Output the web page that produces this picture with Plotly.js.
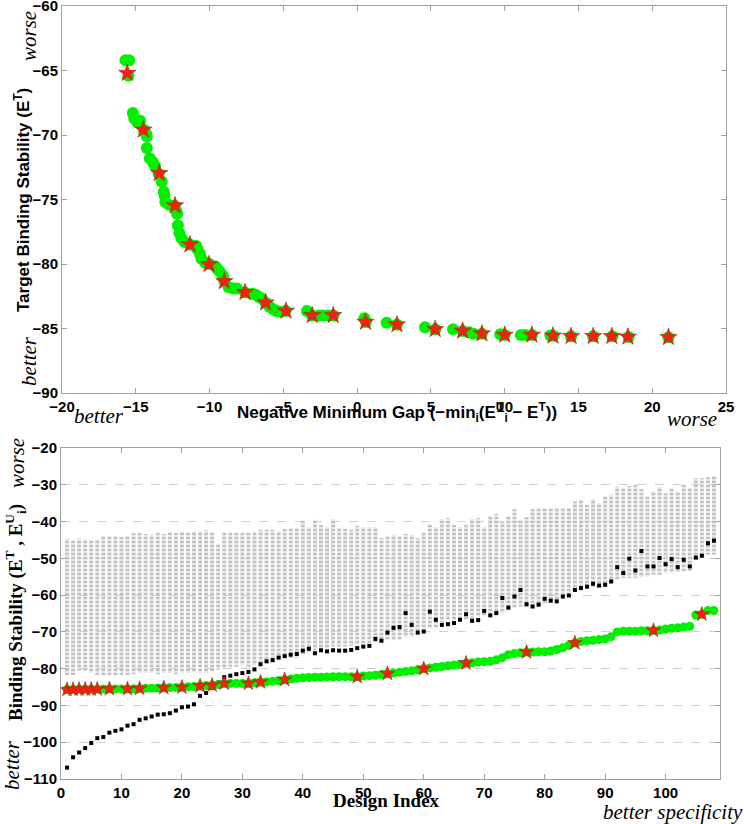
<!DOCTYPE html>
<html>
<head>
<meta charset="utf-8">
<script src="https://cdn.plot.ly/plotly-3.0.1.min.js"></script>
<style>html,body{margin:0;padding:0;background:#fff;}#chart{width:744px;height:824px;}</style>
</head>
<body>
<div id="chart"></div>
<script>
// ---------- Top panel: Pareto front (negative minimum gap vs target stability) ----------
const frontGap = [-15.7,-15.45,-15.5,-15.2,-15.1,-14.9,-14.7,-14.45,-14.3,-14.25,-14.25,-14.05,-13.85,-13.7,-13.45,-13.25,-13.1,-13.05,-13.0,-12.75,
  -12.35,-12.25,-12.2,-12.15,-12.05,-11.9,-11.7,-11.3,-10.9,-10.8,-10.65,-10.55,-10.3,-10.0,-9.6,-9.45,-9.3,-9.1,-9.0,-8.7,
  -8.4,-8.15,-7.6,-7.1,-6.85,-6.65,-6.45,-6.2,-5.95,-5.7,-5.45,-5.2,-4.85,-3.4,-3.05,-2.6,-2.3,-1.95,-1.6,0.5,
  0.6,2.0,2.7,4.6,5.3,6.5,7.15,7.6,7.9,8.45,9.7,10.0,11.1,11.4,11.85,13.1,13.3,14.5,16.0,17.3,18.4,21.1];
const frontET = [-64.2,-64.2,-65.4,-68.3,-68.7,-69.0,-68.9,-69.6,-69.9,-70.1,-71.0,-71.8,-72.1,-72.4,-73.0,-73.6,-74.4,-74.7,-75.2,-75.4,
  -75.5,-75.9,-76.1,-77.0,-77.6,-78.0,-78.3,-78.5,-78.6,-78.9,-79.2,-79.6,-79.9,-80.0,-80.2,-80.4,-80.6,-80.9,-81.3,-81.8,
  -81.9,-81.9,-82.2,-82.3,-82.4,-82.55,-82.7,-83.0,-83.3,-83.5,-83.65,-83.7,-83.65,-83.65,-84.0,-84.0,-84.0,-84.0,-84.0,-84.2,
  -84.5,-84.55,-84.7,-84.9,-85.06,-85.06,-85.2,-85.3,-85.4,-85.4,-85.45,-85.5,-85.5,-85.5,-85.5,-85.55,-85.57,-85.6,-85.6,-85.6,-85.65,-85.68];
const chosenGap = [-15.58,-14.49,-13.41,-12.34,-11.33,-10.04,-9.0,-7.6,-6.2,-4.82,-3.04,-1.62,0.57,2.7,5.29,7.15,8.46,10.0,11.84,13.27,14.5,16.0,17.26,18.35,21.1];
const chosenET = [-65.2,-69.6,-72.97,-75.47,-78.5,-80.03,-81.35,-82.2,-83.0,-83.64,-83.98,-83.98,-84.5,-84.7,-85.06,-85.19,-85.4,-85.5,-85.5,-85.57,-85.6,-85.6,-85.6,-85.65,-85.68];

// ---------- Bottom panel: per-design stabilities (design index 1..108) ----------
const targetET = [-85.68,-85.65,-85.6,-85.6,-85.6,-85.57,-85.55,-85.5,-85.5,-85.5,-85.5,-85.45,-85.4,-85.35,-85.3,-85.25,-85.19,-85.15,-85.1,-85.06,
  -84.95,-84.85,-84.7,-84.6,-84.5,-84.3,-84.0,-84.0,-84.0,-84.0,-84.0,-83.8,-83.64,-83.6,-83.4,-83.3,-83.0,-82.8,-82.6,-82.5,
  -82.4,-82.3,-82.3,-82.25,-82.2,-82.2,-82.2,-82.2,-82.2,-82.0,-81.9,-81.8,-81.6,-81.35,-81.2,-81.0,-80.8,-80.6,-80.3,-80.0,
  -79.8,-79.6,-79.4,-79.2,-79.0,-78.8,-78.5,-78.4,-78.2,-78.1,-78.0,-77.6,-77.0,-76.2,-75.9,-75.7,-75.5,-75.5,-75.4,-75.4,
  -75.2,-74.8,-74.3,-73.7,-73.0,-72.6,-72.4,-72.3,-72.1,-71.9,-71.3,-70.0,-69.8,-69.8,-69.8,-69.7,-69.7,-69.6,-69.5,-69.2,
  -69.0,-68.9,-68.7,-68.5,-65.4,-65.2,-64.2,-64.2];
const offTargetMarked = [-106.9,-104.1,-102.8,-101.6,-100.2,-98.9,-98.6,-97.4,-96.9,-96.5,-95.5,-95.1,-93.9,-93.5,-93.0,-92.5,-92.4,-92.1,-91.4,-90.5,
  -90.3,-89.7,-87.4,-86.6,-85.3,-84.5,-82.3,-81.9,-81.5,-81.2,-80.9,-80.2,-78.8,-78.0,-77.7,-77.0,-76.6,-76.2,-76.0,-75.1,
  -74.6,-75.8,-75.0,-75.3,-75.0,-75.1,-75.1,-74.9,-74.4,-74.0,-73.8,-71.9,-72.4,-70.2,-68.9,-68.7,-64.9,-68.1,-70.2,-69.9,
  -64.5,-66.7,-68.1,-67.9,-67.6,-66.7,-65.2,-67.0,-66.8,-64.3,-65.5,-64.9,-60.8,-63.4,-60.4,-58.6,-62.5,-63.1,-62.6,-61.0,
  -61.5,-61.7,-60.4,-60.1,-58.6,-58.1,-57.7,-56.9,-57.4,-57.2,-56.3,-52.4,-54.0,-50.1,-53.3,-48.0,-52.2,-52.2,-49.9,-51.6,
  -50.2,-52.4,-50.4,-52.2,-49.8,-49.3,-45.9,-45.2];
const offTargetHigh = [-44.7,-45.0,-44.6,-44.8,-45.1,-44.8,-43.9,-43.9,-43.9,-44.2,-44.0,-43.1,-43.1,-43.4,-43.6,-43.0,-43.4,-42.7,-43.1,-42.7,
  -43.0,-42.7,-42.7,-42.4,-42.7,-46.0,-42.9,-43.0,-43.0,-43.0,-43.0,-42.8,-42.2,-42.2,-42.2,-42.6,-42.0,-41.8,-41.8,-39.8,
  -41.5,-39.5,-40.9,-41.5,-39.3,-41.8,-42.0,-42.2,-41.2,-41.5,-41.5,-41.5,-44.5,-44.0,-43.6,-43.9,-43.4,-43.6,-44.5,-43.1,
  -40.9,-41.5,-39.3,-39.1,-40.9,-41.5,-40.9,-39.3,-39.1,-41.5,-38.4,-37.9,-40.0,-38.4,-36.6,-39.5,-38.8,-36.6,-36.3,-36.3,
  -36.3,-36.3,-36.3,-36.3,-34.5,-34.1,-35.4,-33.9,-35.0,-33.2,-32.7,-30.5,-30.7,-30.3,-30.0,-31.2,-33.2,-31.8,-30.6,-32.3,
  -30.9,-31.8,-30.0,-30.9,-28.2,-28.2,-27.9,-27.7];
const offTargetLow = [-81.7,-81.7,-80.5,-80.5,-81.2,-81.7,-81.7,-81.7,-81.7,-81.7,-81.7,-81.5,-81.2,-81.2,-81.2,-81.5,-81.2,-81.2,-81.5,-81.2,
  -81.2,-81.0,-81.2,-81.2,-80.8,-80.3,-80.0,-79.5,-79.5,-79.0,-79.5,-79.0,-78.5,-78.5,-78.0,-77.5,-77.0,-77.0,-77.0,-76.0,
  -75.5,-75.0,-74.5,-74.5,-74.0,-74.0,-74.0,-73.8,-73.5,-73.3,-73.0,-72.8,-72.5,-72.3,-72.2,-72.2,-71.3,-71.3,-70.3,-69.3,
  -69.0,-69.0,-67.4,-66.7,-66.7,-67.0,-66.7,-66.7,-65.8,-65.8,-64.9,-64.9,-64.9,-64.0,-63.5,-63.1,-63.1,-63.1,-63.1,-62.2,
  -62.2,-61.3,-60.4,-59.5,-59.0,-58.6,-58.2,-57.7,-57.7,-57.2,-56.7,-55.8,-55.4,-55.4,-55.4,-55.1,-55.0,-54.5,-54.5,-54.0,
  -54.0,-53.8,-53.6,-53.4,-50.4,-49.9,-49.0,-49.0];
const chosenDesigns = [1,2,3,4,5,6,8,11,13,17,20,23,25,27,31,33,37,49,54,60,67,77,85,98,106];

const topXTicks = [-20,-15,-10,-5,0,5,10,15,20,25];
const topYTicks = [-90,-85,-80,-75,-70,-65,-60];
const botXTicks = [0,10,20,30,40,50,60,70,80,90,100];
const botYTicks = [-110,-100,-90,-80,-70,-60,-50,-40,-30,-20];

// ---------- build ----------
const designIdx = targetET.map((_, i) => i + 1);
const chosenY = chosenDesigns.map(d => targetET[d - 1]);
const spanH = offTargetHigh.map((v, i) => v - offTargetLow[i]);

const W = 744, H = 824;
const fx = p => p / W, fy = p => 1 - p / H;
const GREEN = '#00f000', RED = '#ff1a1a';

const traces = [
  {type: 'scatter', mode: 'markers', x: frontGap, y: frontET, xaxis: 'x', yaxis: 'y',
   marker: {symbol: 'circle', size: 12, color: GREEN, line: {width: 0}}},
  {type: 'scatter', mode: 'markers', x: chosenGap, y: chosenET, xaxis: 'x', yaxis: 'y',
   marker: {symbol: 'star', size: 13, color: RED, line: {width: 0.6, color: '#8a3a00'}}},
  {type: 'bar', x: designIdx, y: spanH, base: offTargetLow, width: 0.66, xaxis: 'x2', yaxis: 'y2',
   marker: {color: 'rgba(0,0,0,0)', line: {width: 0},
            pattern: {shape: '-', fgcolor: '#c2c2c2', bgcolor: 'rgba(255,255,255,0)', size: 4, solidity: 0.7, fillmode: 'replace'}}},
  {type: 'scatter', mode: 'markers', x: designIdx, y: offTargetMarked, xaxis: 'x2', yaxis: 'y2',
   marker: {symbol: 'square', size: 4, color: '#000', line: {width: 0}}},
  {type: 'scatter', mode: 'markers', x: designIdx, y: targetET, xaxis: 'x2', yaxis: 'y2',
   marker: {symbol: 'circle', size: 9, color: GREEN, line: {width: 0}}},
  {type: 'scatter', mode: 'markers', x: chosenDesigns, y: chosenY, xaxis: 'x2', yaxis: 'y2',
   marker: {symbol: 'star', size: 11, color: RED, line: {width: 0.6, color: '#8a3a00'}}}
];

const tickFont = {family: 'Liberation Sans, Arial, sans-serif', size: 15, color: '#000', weight: 'bold'};
const axBase = {showline: true, mirror: 'ticks', linecolor: '#a0a0a0', linewidth: 1, ticks: 'inside', ticklen: 5,
  tickcolor: '#a0a0a0', tickwidth: 1, zeroline: false, showgrid: false, tickfont: tickFont, fixedrange: true,
  ticklabeloverflow: 'allow'};

const serifIt = {family: 'Liberation Serif, Times New Roman, serif', size: 21, color: '#000', style: 'italic'};
const sansB = {family: 'Liberation Sans, Arial, sans-serif', size: 17, color: '#000', weight: 'bold'};
const serifB = {family: 'Liberation Serif, Times New Roman, serif', size: 19, color: '#000', weight: 'bold'};

function ann(text, x, y, font, angle) {
  return {text: text, xref: 'paper', yref: 'paper', x: fx(x), y: fy(y), xanchor: 'center', yanchor: 'middle',
          showarrow: false, font: font, textangle: angle || 0};
}

const layout = {
  width: W, height: H, margin: {l: 0, r: 0, t: 0, b: 0},
  paper_bgcolor: '#fff', plot_bgcolor: '#fff', showlegend: false, barmode: 'overlay',
  xaxis: Object.assign({}, axBase, {domain: [fx(62), fx(726)], range: [-20, 25], tickvals: topXTicks, anchor: 'y'}),
  yaxis: Object.assign({}, axBase, {domain: [fy(393), fy(6)], range: [-90, -60], tickvals: topYTicks, anchor: 'x'}),
  xaxis2: Object.assign({}, axBase, {domain: [fx(61), fx(720)], range: [0, 109], tickvals: botXTicks, anchor: 'y2'}),
  yaxis2: Object.assign({}, axBase, {domain: [fy(779), fy(448)], range: [-110, -20], tickvals: botYTicks, anchor: 'x2',
    showgrid: true, gridcolor: '#d0d0d0', griddash: 'dash', gridwidth: 1}),
  annotations: [
    ann('Target Binding Stability (E<sup>T</sup>)', 22, 200, sansB, -90),
    ann('Negative Minimum Gap (−min<sub>i</sub>(E<sup>U</sup><sub>i</sub> − E<sup>T</sup>))', 397, 412, sansB),
    ann('worse', 29, 36, serifIt, -90),
    ann('better', 29, 361, serifIt, -90),
    ann('better', 99, 416, serifIt),
    ann('worse', 692, 419, serifIt),
    ann('Binding Stability (E<sup>T</sup> , E<sup>U</sup><sub>i</sub>)', 15, 613, serifB, -90),
    ann('worse', 17, 463, serifIt, -90),
    ann('better', 12, 765, serifIt, -90),
    ann('Design Index', 386, 800, serifB),
    ann('better specificity', 673, 812, serifIt)
  ]
};

Plotly.newPlot('chart', traces, layout, {staticPlot: true, displayModeBar: false});
</script>
</body>
</html>
